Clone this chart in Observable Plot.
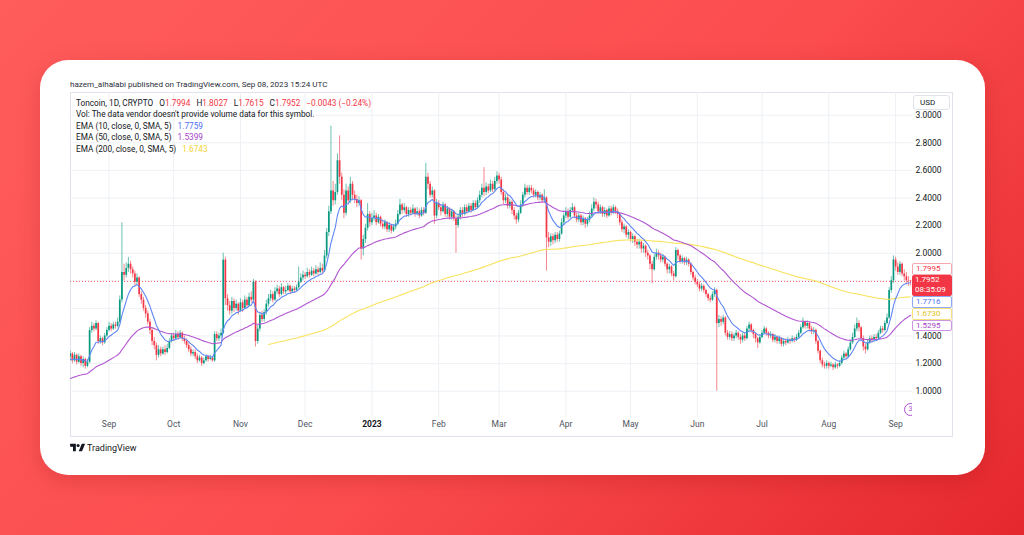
<!DOCTYPE html>
<html><head><meta charset="utf-8">
<script src="https://cdn.jsdelivr.net/npm/d3@7"></script>
<script src="https://cdn.jsdelivr.net/npm/@observablehq/plot@0.6"></script>
<style>
html,body{margin:0;padding:0;}
body{width:1024px;height:535px;overflow:hidden;position:relative;font-family:Roboto,"Noto Sans",sans-serif;background:linear-gradient(135deg,#ff5c5c 0%,#fb4c4e 55%,#e5282e 100%);}
#card{position:absolute;left:40px;top:60px;width:945px;height:415px;background:#fff;border-radius:28px;box-shadow:0 6px 22px rgba(120,0,0,0.18);}
.abs{position:absolute;white-space:nowrap;}
#pub{left:70px;top:79px;font-size:8.1px;line-height:11px;color:#2a2e39;}
#frame{position:absolute;left:70px;top:92px;width:883px;height:345px;box-sizing:border-box;border:1px solid #e0e3eb;}
#chart{position:absolute;left:70px;top:92px;}
#legend{left:76px;top:97.5px;font-size:8.25px;line-height:11.5px;color:#131722;}
.r{color:#f23645;}
.g{margin-left:4px;}
#usd{left:913px;top:95px;width:37px;height:15px;box-sizing:border-box;border:1px solid #e0e3eb;border-radius:3px;background:#fff;font-size:8px;line-height:13px;padding-left:6px;color:#131722;}
.pl{position:absolute;left:911.5px;width:40px;box-sizing:border-box;font-size:8px;padding-left:3.5px;border-radius:2px;overflow:hidden;}
#tv{left:70px;top:443px;font-size:9px;line-height:11px;color:#131722;}
#ico{left:899px;top:402px;width:12.5px;height:14px;overflow:hidden;}
</style></head>
<body>
<div id="card"></div>
<div id="pub" class="abs">hazem_alhalabi published on TradingView.com, Sep 08, 2023 15:24 UTC</div>
<div id="frame"></div>
<div id="chart"></div>
<div id="legend" class="abs"></div>
<div id="usd" class="abs">USD</div>
<div id="ico" class="abs"><div style="width:11px;height:11px;border:1.4px solid #b04fd6;border-radius:50%;font-size:7px;line-height:11px;text-align:center;color:#b04fd6;margin-left:5px;margin-top:0.5px;">3</div></div>
<div id="tv" class="abs"><svg width="15" height="9" viewBox="0 0 36 22" style="vertical-align:-1px;margin-right:2px"><path d="M14 20H7V9H0V2h14v18zM29 20h-8l7.5-18h8L29 20z" fill="#131722"/><circle cx="19.5" cy="6" r="3.8" fill="#131722"/></svg>TradingView</div>
<script>
// ---------- data ----------
const firstDay = Date.UTC(2022, 7, 14);   // first daily candle
const firstOpen = 1.25;
const closes = [
1.27,1.22,1.26,1.21,1.25,1.20,1.23,1.18,1.21,1.44,
1.47,1.45,1.49,1.36,1.38,1.35,1.40,1.44,1.47,1.45,
1.48,1.47,1.50,1.66,1.86,1.84,1.89,1.92,1.88,1.85,
1.79,1.82,1.70,1.66,1.60,1.56,1.50,1.44,1.36,1.33,
1.26,1.30,1.27,1.30,1.28,1.31,1.36,1.40,1.38,1.41,
1.39,1.42,1.38,1.36,1.33,1.30,1.27,1.28,1.25,1.22,
1.24,1.20,1.22,1.25,1.23,1.24,1.22,1.41,1.38,1.40,
1.42,1.95,1.67,1.62,1.58,1.65,1.60,1.63,1.58,1.64,
1.60,1.66,1.62,1.68,1.66,1.79,1.36,1.45,1.55,1.52,
1.57,1.63,1.67,1.70,1.66,1.72,1.74,1.70,1.75,1.72,
1.73,1.76,1.72,1.74,1.73,1.75,1.79,1.82,1.84,1.83,
1.86,1.84,1.87,1.85,1.88,1.86,1.89,1.87,1.98,2.15,
2.30,2.45,2.38,2.44,2.67,2.55,2.42,2.29,2.45,2.38,
2.50,2.42,2.39,2.36,2.38,2.03,2.10,2.18,2.28,2.22,
2.25,2.27,2.22,2.26,2.21,2.19,2.22,2.17,2.20,2.16,
2.19,2.21,2.28,2.35,2.31,2.33,2.28,2.31,2.29,2.32,
2.28,2.30,2.27,2.31,2.29,2.55,2.50,2.42,2.45,2.27,
2.36,2.33,2.30,2.35,2.28,2.32,2.26,2.30,2.25,2.20,
2.26,2.31,2.28,2.33,2.30,2.34,2.31,2.36,2.33,2.38,
2.42,2.47,2.44,2.48,2.45,2.50,2.46,2.52,2.56,2.53,
2.44,2.38,2.40,2.34,2.37,2.31,2.27,2.24,2.29,2.35,
2.42,2.47,2.44,2.47,2.45,2.42,2.44,2.40,2.42,2.38,
2.40,2.11,2.08,2.12,2.09,2.13,2.10,2.14,2.22,2.27,
2.30,2.26,2.31,2.33,2.27,2.24,2.27,2.22,2.25,2.21,
2.24,2.27,2.32,2.37,2.35,2.30,2.33,2.28,2.31,2.27,
2.32,2.29,2.33,2.30,2.28,2.22,2.17,2.19,2.13,2.15,
2.10,2.12,2.08,2.06,2.08,2.03,2.05,2.00,1.98,1.92,
1.88,1.97,2.00,1.98,1.95,1.97,1.92,1.88,1.90,1.85,
1.83,2.02,1.98,1.94,1.96,1.93,1.95,1.92,1.86,1.82,
1.79,1.77,1.74,1.76,1.73,1.70,1.67,1.66,1.70,1.73,
1.49,1.52,1.50,1.53,1.42,1.39,1.41,1.38,1.40,1.42,
1.39,1.37,1.40,1.38,1.45,1.48,1.44,1.41,1.38,1.35,
1.39,1.42,1.45,1.42,1.40,1.41,1.37,1.39,1.36,1.38,
1.34,1.36,1.35,1.37,1.36,1.38,1.37,1.39,1.42,1.46,
1.50,1.47,1.49,1.45,1.43,1.44,1.36,1.29,1.22,1.19,
1.18,1.20,1.18,1.19,1.17,1.19,1.18,1.20,1.24,1.27,
1.25,1.30,1.35,1.39,1.45,1.49,1.46,1.38,1.32,1.30,
1.35,1.38,1.37,1.39,1.38,1.42,1.45,1.44,1.49,1.53,
1.73,1.80,1.95,1.90,1.86,1.92,1.85,1.83,1.80,1.7994,
1.7952];
const highs = [
1.29,1.28,1.28,1.27,1.27,1.26,1.25,1.24,1.23,1.46,
1.50,1.49,1.51,1.50,1.40,1.39,1.42,1.46,1.50,1.49,
1.50,1.50,1.53,1.69,2.22,1.92,1.93,1.97,1.94,1.90,
1.87,1.85,1.83,1.72,1.68,1.62,1.58,1.52,1.46,1.39,
1.35,1.33,1.32,1.32,1.33,1.34,1.38,1.42,1.42,1.44,
1.43,1.44,1.43,1.40,1.38,1.35,1.32,1.30,1.30,1.27,
1.26,1.25,1.24,1.26,1.26,1.26,1.25,1.43,1.43,1.42,
1.45,2.00,1.97,1.70,1.65,1.68,1.67,1.66,1.64,1.67,
1.66,1.69,1.68,1.71,1.72,1.81,1.80,1.48,1.57,1.58,
1.59,1.66,1.70,1.73,1.72,1.75,1.77,1.76,1.78,1.76,
1.76,1.78,1.77,1.76,1.76,1.77,1.90,1.85,1.87,1.86,
1.89,1.88,1.90,1.89,1.91,1.90,1.93,1.92,2.02,2.18,
2.34,2.92,2.52,2.50,2.72,2.85,2.58,2.46,2.50,2.48,
2.55,2.52,2.45,2.42,2.41,2.39,2.13,2.21,2.36,2.30,
2.29,2.31,2.29,2.28,2.27,2.24,2.24,2.23,2.22,2.21,
2.21,2.24,2.31,2.39,2.36,2.36,2.34,2.33,2.33,2.35,
2.33,2.33,2.32,2.33,2.33,2.65,2.58,2.52,2.48,2.46,
2.39,2.38,2.35,2.37,2.36,2.34,2.33,2.32,2.31,2.27,
2.28,2.33,2.33,2.35,2.35,2.36,2.36,2.38,2.38,2.40,
2.45,2.50,2.62,2.51,2.50,2.53,2.52,2.55,2.59,2.58,
2.55,2.46,2.43,2.42,2.39,2.38,2.33,2.29,2.31,2.38,
2.44,2.50,2.49,2.49,2.49,2.47,2.46,2.45,2.44,2.43,
2.46,2.41,2.15,2.14,2.14,2.15,2.15,2.16,2.25,2.29,
2.33,2.32,2.33,2.36,2.34,2.29,2.29,2.28,2.27,2.26,
2.26,2.30,2.35,2.40,2.39,2.37,2.35,2.34,2.33,2.32,
2.34,2.34,2.35,2.34,2.32,2.29,2.24,2.21,2.20,2.17,
2.16,2.14,2.13,2.10,2.10,2.09,2.07,2.06,2.02,1.99,
1.94,1.99,2.03,2.02,2.00,1.99,1.98,1.93,1.92,1.91,
1.87,2.04,2.03,1.99,1.98,1.97,1.97,1.96,1.93,1.87,
1.84,1.81,1.79,1.78,1.77,1.74,1.71,1.69,1.72,1.75,
1.74,1.55,1.54,1.55,1.54,1.44,1.43,1.43,1.42,1.44,
1.43,1.41,1.42,1.42,1.47,1.50,1.49,1.45,1.42,1.39,
1.41,1.44,1.47,1.46,1.43,1.43,1.42,1.41,1.40,1.40,
1.39,1.38,1.38,1.39,1.38,1.40,1.39,1.41,1.44,1.48,
1.53,1.51,1.51,1.50,1.47,1.46,1.45,1.37,1.30,1.24,
1.21,1.22,1.21,1.21,1.20,1.21,1.20,1.22,1.26,1.29,
1.28,1.32,1.37,1.42,1.48,1.53,1.51,1.47,1.40,1.34,
1.37,1.40,1.40,1.41,1.41,1.44,1.47,1.47,1.51,1.56,
1.75,1.83,1.98,1.97,1.93,1.94,1.93,1.88,1.86,1.83,
1.8027];
const lows = [
1.23,1.20,1.21,1.19,1.20,1.18,1.17,1.16,1.17,1.20,
1.42,1.43,1.44,1.34,1.34,1.33,1.34,1.39,1.43,1.43,
1.44,1.45,1.46,1.49,1.64,1.80,1.82,1.86,1.85,1.82,
1.76,1.77,1.68,1.63,1.58,1.53,1.48,1.41,1.33,1.30,
1.22,1.24,1.25,1.26,1.26,1.27,1.30,1.35,1.36,1.37,
1.37,1.38,1.36,1.34,1.31,1.28,1.25,1.25,1.23,1.20,
1.21,1.18,1.19,1.21,1.21,1.22,1.21,1.21,1.36,1.36,
1.38,1.41,1.62,1.58,1.55,1.56,1.57,1.58,1.55,1.57,
1.57,1.59,1.60,1.61,1.64,1.65,1.32,1.34,1.43,1.50,
1.50,1.55,1.61,1.65,1.64,1.65,1.70,1.68,1.69,1.70,
1.70,1.72,1.70,1.71,1.71,1.72,1.74,1.78,1.80,1.81,
1.82,1.82,1.83,1.83,1.84,1.84,1.85,1.85,1.86,1.96,
2.12,2.28,2.34,2.35,2.42,2.50,2.38,2.25,2.27,2.35,
2.36,2.38,2.36,2.33,2.34,1.95,1.98,2.07,2.16,2.19,
2.20,2.23,2.20,2.21,2.19,2.17,2.17,2.15,2.15,2.14,
2.15,2.17,2.20,2.27,2.28,2.29,2.26,2.26,2.27,2.28,
2.26,2.27,2.25,2.26,2.27,2.28,2.46,2.40,2.40,2.21,
2.25,2.31,2.27,2.29,2.26,2.26,2.24,2.24,2.23,2.00,
2.18,2.24,2.26,2.27,2.28,2.29,2.29,2.30,2.31,2.32,
2.36,2.40,2.41,2.42,2.43,2.44,2.44,2.45,2.50,2.50,
2.42,2.35,2.36,2.32,2.32,2.28,2.24,2.21,2.22,2.28,
2.33,2.40,2.42,2.42,2.43,2.40,2.40,2.38,2.38,2.36,
2.36,1.87,2.04,2.05,2.06,2.07,2.08,2.08,2.13,2.20,
2.25,2.24,2.25,2.29,2.25,2.22,2.22,2.20,2.20,2.18,
2.19,2.22,2.26,2.30,2.32,2.28,2.28,2.26,2.26,2.25,
2.26,2.27,2.28,2.28,2.25,2.20,2.15,2.14,2.11,2.10,
2.08,2.07,2.05,2.03,2.03,2.00,2.00,1.97,1.95,1.88,
1.78,1.87,1.95,1.95,1.93,1.93,1.90,1.85,1.85,1.83,
1.80,1.82,1.95,1.92,1.92,1.91,1.91,1.90,1.84,1.80,
1.77,1.75,1.72,1.72,1.71,1.68,1.65,1.64,1.65,1.68,
1.00,1.46,1.47,1.48,1.40,1.37,1.37,1.36,1.36,1.38,
1.37,1.34,1.35,1.36,1.37,1.43,1.42,1.38,1.35,1.31,
1.34,1.38,1.41,1.40,1.38,1.38,1.35,1.35,1.34,1.34,
1.32,1.32,1.33,1.34,1.34,1.35,1.35,1.36,1.38,1.41,
1.45,1.45,1.45,1.43,1.41,1.41,1.34,1.27,1.20,1.17,
1.16,1.16,1.16,1.17,1.15,1.16,1.16,1.17,1.19,1.23,
1.23,1.24,1.29,1.34,1.38,1.43,1.43,1.36,1.29,1.27,
1.29,1.34,1.35,1.36,1.36,1.37,1.41,1.42,1.43,1.48,
1.52,1.71,1.78,1.87,1.84,1.84,1.83,1.80,1.77,1.76,
1.7615];
// EMA seeds (value of each EMA just before its first drawn bar)
const ema10Seed = 1.22, ema50Seed = 1.085, ema200Seed = 1.335, ema200Start = 92;
const priceTicks = [1.0,1.2,1.4,1.6,1.8,2.0,2.2,2.4,2.6,2.8,3.0];
const monthTicks = [[2022,8],[2022,9],[2022,10],[2022,11],[2023,0],[2023,1],[2023,2],[2023,3],[2023,4],[2023,5],[2023,6],[2023,7],[2023,8]];
const monthLabels = ["Sep","Oct","Nov","Dec","2023","Feb","Mar","Apr","May","Jun","Jul","Aug","Sep"];
const lastPrice = 1.7952;
const scaleLabels = [
  {v:1.7995, text:"1.7995", kind:"outline", color:"#f23645", border:"#f7a7ae"},
  {v:1.7952, text:"1.7952", sub:"08:35:09", kind:"main", color:"#ffffff", border:"#f23645"},
  {v:1.7716, text:"1.7716", kind:"outline", color:"#4f74f5", border:"#8fa8f8"},
  {v:1.6730, text:"1.6730", kind:"outline", color:"#e3c21a", border:"#f7e27a"},
  {v:1.5295, text:"1.5295", kind:"outline", color:"#a540c9", border:"#cf94e4"}
];
const colors = {up:"#089981", down:"#f23645", ema10:"#5f86f5", ema50:"#b256d1", ema200:"#f9e25c"};

// ---------- build tables ----------
const DAY = 86400000;
const dayDate = i => new Date(firstDay + i*DAY);
const candles = closes.map((c,i) => {
  const o = i === 0 ? firstOpen : closes[i-1];
  return {date: dayDate(i), open:o, close:c, high:Math.max(highs[i],o,c), low:Math.min(lows[i],o,c), up: c >= o};
});
function ema(n, seed, start) {
  const a = 2/(n+1); let e = seed; const out = [];
  for (let i = start; i < closes.length; i++) { e = a*closes[i] + (1-a)*e; out.push({date: dayDate(i), v: e}); }
  return out;
}
const e10 = ema(10, ema10Seed, 0), e50 = ema(50, ema50Seed, 0), e200 = ema(200, ema200Seed, ema200Start);
const ticksX = monthTicks.map(([y,m]) => new Date(Date.UTC(y,m,1)));
const monthRows = ticksX.map((d,i) => ({date: d, label: monthLabels[i]}));

// ---------- chart geometry ----------
const W = 883, H = 345, mTop = 0, mBottom = 20, mRight = 41.5;
const yDomain = [0.8094, 3.1645];
const xDomain = [new Date(firstDay + 0.135*DAY), new Date(firstDay + 390.6*DAY)];
// same mapping as Plot's y scale, used to lay out the price-scale labels
const yPix = d3.scaleLinear().domain(yDomain).range([H - mBottom, mTop]);

// ---------- price-scale labels (pushed apart like TradingView) ----------
const h = 11.8;
const main = scaleLabels.find(d => d.kind === "main");
const mainTop = yPix(main.v) - 6, mainBottom = mainTop + 21;
const placed = [{d: main, top: mainTop, height: 21}];
let edge = mainTop;
scaleLabels.filter(d => d.v > main.v).sort((a,b) => a.v - b.v).forEach(d => {
  const c = Math.min(yPix(d.v), edge - h/2); placed.push({d, top: c - h/2, height: h}); edge = c - h/2;
});
edge = mainBottom;
scaleLabels.filter(d => d.v < main.v).sort((a,b) => b.v - a.v).forEach(d => {
  const c = Math.max(yPix(d.v), edge + h/2); placed.push({d, top: c - h/2, height: h}); edge = c + h/2;
});
// tick labels hidden under a label box are not drawn (as on the picture)
const visibleTicks = priceTicks.filter(t => {
  const p = yPix(t);
  return !placed.some(b => p > b.top - 4 && p < b.top + b.height + 4);
});

const chart = Plot.plot({
  width: W, height: H,
  marginTop: mTop, marginBottom: mBottom, marginLeft: 0, marginRight: mRight,
  x: {type: "utc", domain: xDomain, axis: null},
  y: {domain: yDomain, axis: null},
  style: {fontFamily: "Roboto, 'Noto Sans', sans-serif", fontSize: "8.5px", background: "transparent", overflow: "visible"},
  marks: [
    Plot.ruleY(priceTicks, {y: d => d, stroke: "#eef0f5"}),
    Plot.ruleX(ticksX, {x: d => d, stroke: "#eef0f5"}),
    Plot.ruleY([lastPrice], {y: d => d, stroke: "#f4606c", strokeDasharray: "1 2", strokeWidth: 1}),
    Plot.ruleX(candles, {x: "date", y1: "low", y2: "high", stroke: d => d.up ? colors.up : colors.down, strokeWidth: 1, strokeOpacity: 0.6, clip: true}),
    Plot.ruleX(candles, {x: "date", y1: "open", y2: "close", stroke: d => d.up ? colors.up : colors.down, strokeWidth: 1.7, clip: true}),
    Plot.line(e200, {x: "date", y: "v", stroke: colors.ema200, strokeWidth: 1.1, clip: true}),
    Plot.line(e50, {x: "date", y: "v", stroke: colors.ema50, strokeWidth: 1.1, clip: true}),
    Plot.line(e10, {x: "date", y: "v", stroke: colors.ema10, strokeWidth: 1.1, clip: true}),
    Plot.text(visibleTicks, {y: d => d, text: d => d3.format(".4f")(d), frameAnchor: "right", textAnchor: "start", dx: 3.5, fill: "#131722"}),
    Plot.text(monthRows.filter(d => d.label !== "2023"), {x: "date", text: "label", frameAnchor: "bottom", dy: 9.5, fill: "#50535e"}),
    Plot.text(monthRows.filter(d => d.label === "2023"), {x: "date", text: "label", frameAnchor: "bottom", dy: 9.5, fill: "#131722", fontWeight: "bold"})
  ]
});
document.getElementById("chart").appendChild(chart);

// ---------- legend ----------
document.getElementById("legend").innerHTML =
  'Toncoin, 1D, CRYPTO<span class="g"></span> O<span class="r">1.7994</span><span class="g"></span> H<span class="r">1.8027</span><span class="g"></span> L<span class="r">1.7615</span><span class="g"></span> C<span class="r">1.7952</span><span class="g"></span> <span class="r">−0.0043 (−0.24%)</span><br>' +
  'Vol: The data vendor doesn\'t provide volume data for this symbol.<br>' +
  'EMA (10, close, 0, SMA, 5)<span class="g"></span> <span style="color:#4f6ef7">1.7759</span><br>' +
  'EMA (50, close, 0, SMA, 5)<span class="g"></span> <span style="color:#a63fc7">1.5399</span><br>' +
  'EMA (200, close, 0, SMA, 5)<span class="g"></span> <span style="color:#f2d335">1.6743</span>';

// ---------- draw the price-scale label boxes ----------
placed.forEach(({d, top, height}) => {
  const el = document.createElement("div");
  el.className = "pl";
  el.style.top = (92 + top) + "px";
  el.style.height = height + "px";
  if (d.kind === "main") {
    el.style.background = d.border; el.style.color = d.color; el.style.lineHeight = "10px"; el.style.paddingTop = "0.5px";
    el.innerHTML = d.text + "<br>" + d.sub;
  } else {
    el.style.background = "#fff"; el.style.border = "1px solid " + d.border; el.style.color = d.color;
    el.style.lineHeight = (height - 2) + "px";
    el.textContent = d.text;
  }
  document.body.appendChild(el);
});
</script>
</body></html>
